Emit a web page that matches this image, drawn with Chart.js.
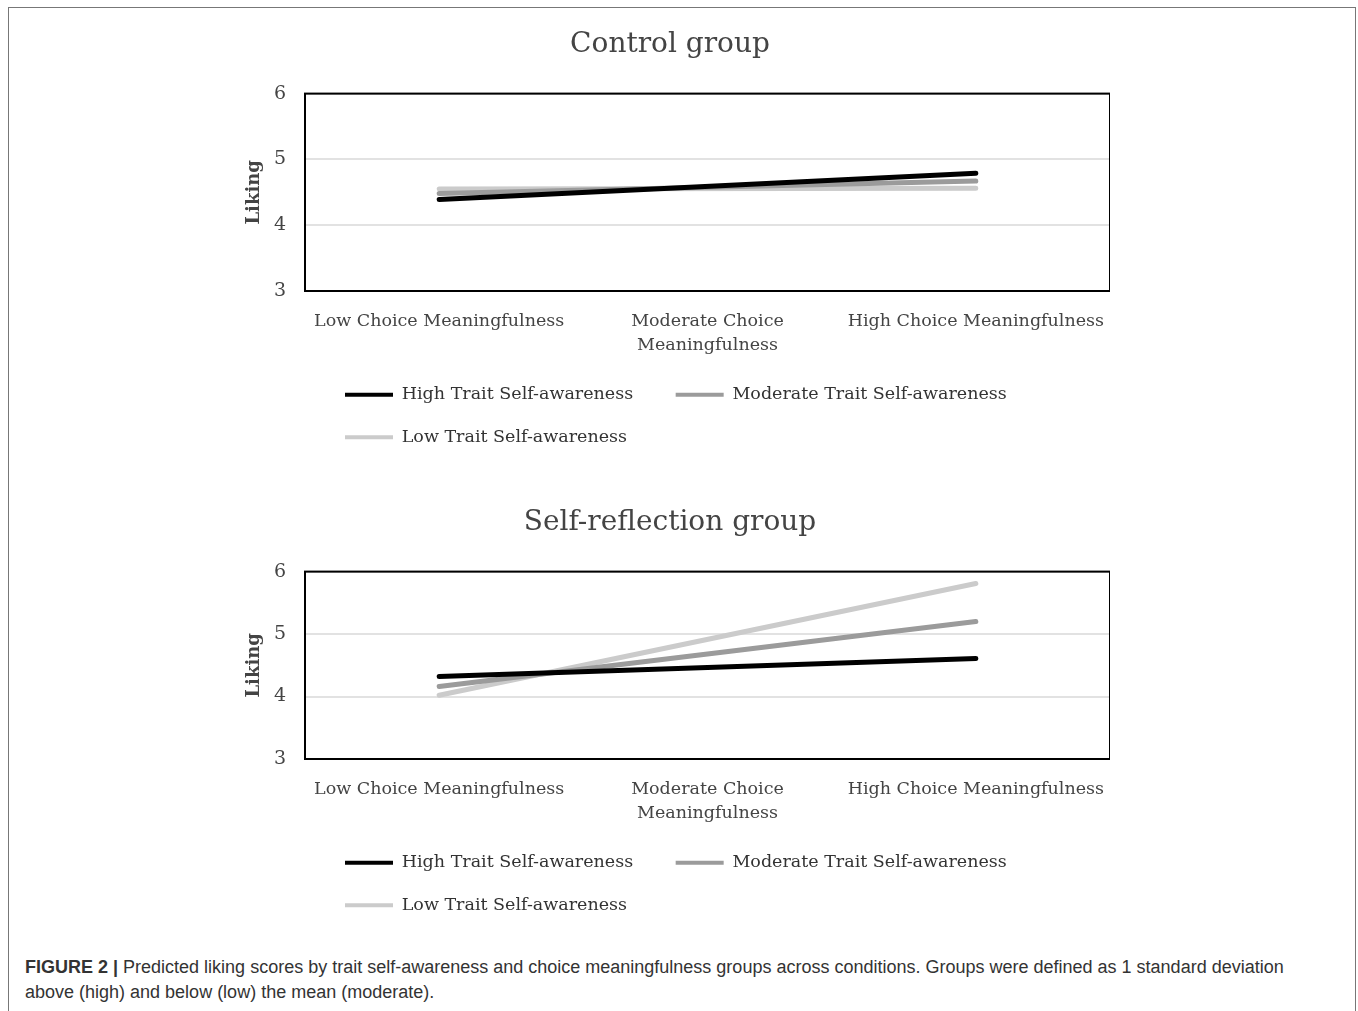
<!DOCTYPE html>
<html>
<head>
<meta charset="utf-8">
<script src="https://cdn.jsdelivr.net/npm/chart.js@4.4.1/dist/chart.umd.min.js"></script>
<style>
  body { margin: 0; background: #fff; width: 1358px; height: 1011px; overflow: hidden; position: relative; }
  #frame { position: absolute; left: 8px; top: 7px; width: 1346px; height: 1030px; border: 1.5px solid #777; }
  .panel { position: absolute; left: 230px; width: 880px; }
  #p1 { top: 10px; height: 460px; }
  #p2 { top: 488px; height: 450px; }
  #caption { position: absolute; left: 25px; top: 955px; width: 1300px; font-family: "Liberation Sans", Arial, sans-serif;
             font-size: 18px; line-height: 25px; color: #333; }
</style>
</head>
<body>
<div id="frame"></div>
<div class="panel" id="p1"><canvas id="c1"></canvas></div>
<div class="panel" id="p2"><canvas id="c2"></canvas></div>
<div id="caption"><b>FIGURE 2 |</b> Predicted liking scores by trait self-awareness and choice meaningfulness groups across conditions. Groups were defined as 1 standard deviation above (high) and below (low) the mean (moderate).</div>
<script>
// categories on the x axis
var categories = ['Low Choice Meaningfulness', ['Moderate Choice', 'Meaningfulness'], 'High Choice Meaningfulness'];
var seriesNames = ['High Trait Self-awareness', 'Moderate Trait Self-awareness', 'Low Trait Self-awareness'];
var yTicks = [3, 4, 5, 6];

// control group (lines go straight from low to high)
var controlHigh = [4.39, null, 4.79];
var controlModerate = [4.48, null, 4.67];
var controlLow = [4.55, null, 4.56];

// self-reflection group
var reflectionHigh = [4.32, null, 4.61];
var reflectionModerate = [4.16, null, 5.20];
var reflectionLow = [4.02, null, 5.81];

var lineColors = ['#000000', '#9b9b9b', '#cbcbcb'];
var serif = '"DejaVu Serif", "Liberation Serif", serif';
var textColor = '#444';

// box around the plot area + nudge the legend to the right
var framePlugin = {
  id: 'frame',
  afterLayout: function(chart) {
    chart.legend.left += 15;
  },
  afterDraw: function(chart) {
    var a = chart.chartArea, ctx = chart.ctx;
    ctx.save();
    ctx.strokeStyle = '#000';
    ctx.lineWidth = 2;
    ctx.strokeRect(a.left, a.top, a.right - a.left, a.bottom - a.top);
    ctx.restore();
  }
};

function makeChart(id, title, high, moderate, low) {
  var values = [high, moderate, low];
  var datasets = [];
  for (var i = 0; i < 3; i++) {
    datasets.push({
      label: seriesNames[i],
      data: values[i],
      borderColor: lineColors[i],
      backgroundColor: lineColors[i],
      borderWidth: 5,
      borderCapStyle: 'round',
      pointRadius: 0,
      spanGaps: true,
      tension: 0
    });
  }

  return new Chart(document.getElementById(id), {
    type: 'line',
    data: { labels: categories, datasets: datasets },
    plugins: [framePlugin],
    options: {
      responsive: true,
      maintainAspectRatio: false,
      animation: false,
      layout: { padding: { left: 0, right: 0, top: 0, bottom: 14 } },
      plugins: {
        title: {
          display: true,
          text: title,
          color: textColor,
          font: { family: serif, size: 28, weight: 'normal' },
          padding: { top: 18, bottom: 32 }
        },
        legend: {
          position: 'bottom',
          align: 'start',
          fullSize: false,
          labels: {
            boxWidth: 48,
            boxHeight: 4,
            padding: 25,
            color: '#333',
            font: { family: serif, size: 17.5 },
            generateLabels: function(chart) {
              var items = Chart.defaults.plugins.legend.labels.generateLabels(chart);
              items.forEach(function(it) {
                it.lineWidth = 0;
                it.text = it.text + '\u2003';
              });
              return items;
            }
          }
        },
        tooltip: { enabled: false }
      },
      scales: {
        x: {
          offset: true,
          afterFit: function(scale) {
            scale.height = 70;
            scale.paddingLeft = 0;
            scale.paddingRight = 0;
          },
          grid: { display: false },
          border: { display: false },
          ticks: {
            color: textColor,
            font: { family: serif, size: 17.5, lineHeight: 1.35 },
            padding: 11,
            maxRotation: 0,
            autoSkip: false
          }
        },
        y: {
          min: 3,
          max: 6,
          afterFit: function(scale) { scale.width = 75; },
          afterBuildTicks: function(scale) {
            scale.ticks = yTicks.map(function(v) { return { value: v }; });
          },
          grid: { color: '#e2e2e2', lineWidth: 2, drawTicks: false },
          border: { display: false },
          ticks: { color: textColor, font: { family: serif, size: 19 }, padding: 19 },
          title: {
            display: true,
            text: 'Liking',
            color: textColor,
            font: { family: serif, size: 18, weight: 'bold' },
            padding: { top: 14, bottom: 4 }
          }
        }
      }
    }
  });
}

makeChart('c1', 'Control group', controlHigh, controlModerate, controlLow);
makeChart('c2', 'Self-reflection group', reflectionHigh, reflectionModerate, reflectionLow);
</script>
</body>
</html>
